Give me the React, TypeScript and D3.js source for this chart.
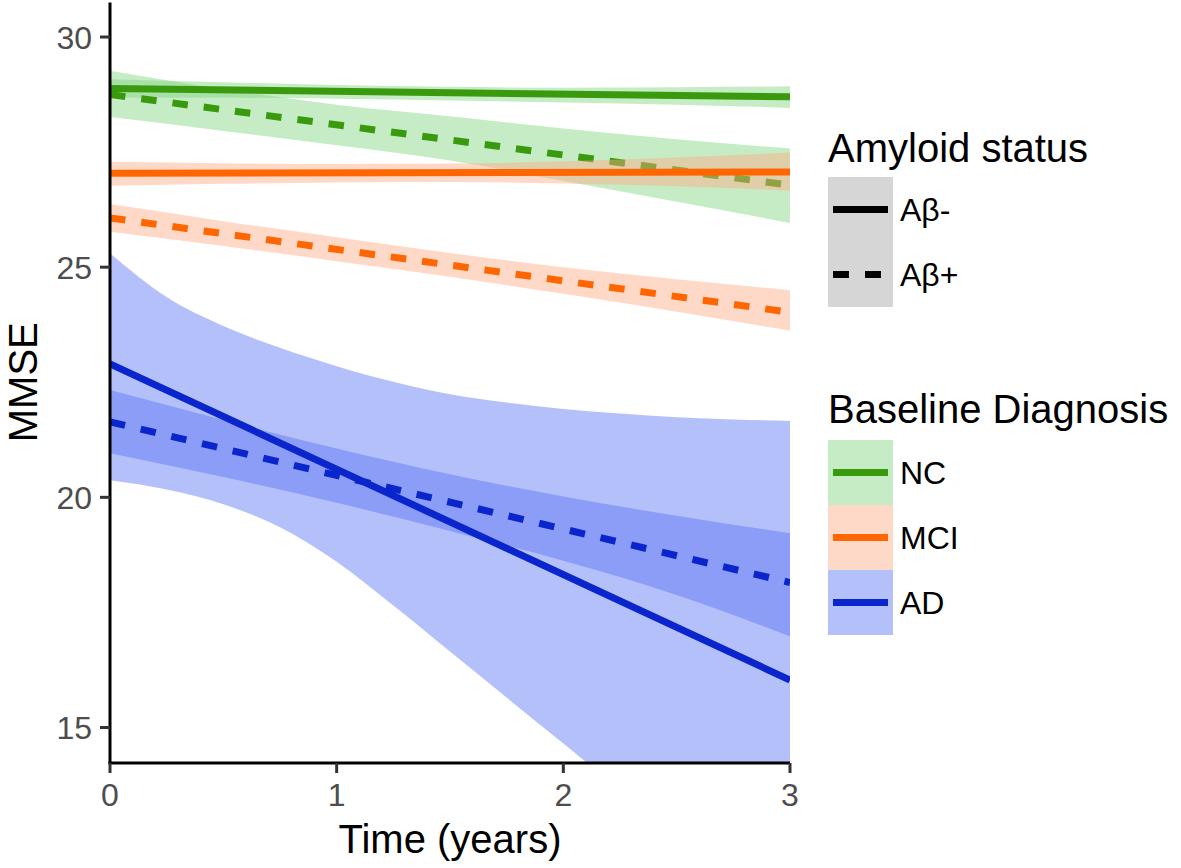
import React from 'react';
import * as d3 from 'd3';

// ---------- data ----------
const xTicks = [0, 1, 2, 3];
const yTicks = [15, 20, 25, 30];
const yLimits = [15, 30];

const diagnoses = ['NC', 'MCI', 'AD'];
const amyloidStatus = ['Aβ-', 'Aβ+'];

// fitted lines (value at time 0 and 3)
const lineTimes = [0, 3];
const ncNegMean = [28.88, 28.7];
const ncPosMean = [28.75, 26.78];
const mciNegMean = [27.04, 27.07];
const mciPosMean = [26.07, 24.02];
const adNegMean = [22.9, 16.03];
const adPosMean = [21.64, 18.15];

// confidence bands
const bandTimes = [0, 0.5, 1, 1.5, 2, 2.5, 3];
const ncNegUpper = [29.08, 29.02, 28.96, 28.92, 28.9, 28.91, 28.93];
const ncNegLower = [28.68, 28.68, 28.66, 28.62, 28.58, 28.53, 28.46];
const ncPosUpper = [29.27, 28.87, 28.53, 28.28, 28.01, 27.78, 27.58];
const ncPosLower = [28.26, 27.96, 27.65, 27.32, 26.87, 26.42, 25.96];
const mciNegUpper = [27.29, 27.26, 27.24, 27.25, 27.3, 27.38, 27.49];
const mciNegLower = [26.77, 26.81, 26.84, 26.85, 26.82, 26.76, 26.66];
const mciPosUpper = [26.37, 26.0, 25.65, 25.31, 25.0, 24.74, 24.5];
const mciPosLower = [25.77, 25.46, 25.13, 24.79, 24.42, 24.03, 23.62];
const adPosUpper = [22.33, 21.68, 21.06, 20.5, 20.02, 19.6, 19.22];
const adPosLower = [20.96, 20.44, 19.88, 19.27, 18.62, 17.88, 16.98];

const bandTimesFine = [0, 0.25, 0.5, 0.75, 1, 1.25, 1.5, 1.75, 2, 2.25, 2.5, 2.75, 3];
const adNegUpper = [25.3, 24.35, 23.72, 23.25, 22.85, 22.51, 22.24, 22.06, 21.92, 21.82, 21.74, 21.69, 21.66];
const adNegLower = [20.37, 20.17, 19.85, 19.35, 18.6, 17.65, 16.65, 15.65, 14.65, 13.65, 12.65, 11.65, 10.65];

// ---------- styling ----------
const lineColors: Record<string, string> = { NC: '#3a9a0e', MCI: '#ff6600', AD: '#0a25cc' };
const bandFills: Record<string, string> = { NC: 'rgb(128,213,128)', MCI: 'rgb(255,171,133)', AD: 'rgb(88,115,244)' };
const bandOpacity = 0.45;
const dash = '15.5 16';
const FONT = '"Liberation Sans", Arial, Helvetica, sans-serif';

const W = 1181;
const H = 868;
const panel = { left: 110, right: 790, top: 2.5, bottom: 762 };

type Group = {
  diag: string;
  bands: { times: number[]; upper: number[]; lower: number[] }[];
  lines: { values: number[]; dashed: boolean }[];
};

const groups: Group[] = [
  {
    diag: 'NC',
    bands: [
      { times: bandTimes, upper: ncNegUpper, lower: ncNegLower },
      { times: bandTimes, upper: ncPosUpper, lower: ncPosLower },
    ],
    lines: [
      { values: ncNegMean, dashed: false },
      { values: ncPosMean, dashed: true },
    ],
  },
  {
    diag: 'MCI',
    bands: [
      { times: bandTimes, upper: mciNegUpper, lower: mciNegLower },
      { times: bandTimes, upper: mciPosUpper, lower: mciPosLower },
    ],
    lines: [
      { values: mciNegMean, dashed: false },
      { values: mciPosMean, dashed: true },
    ],
  },
  {
    diag: 'AD',
    bands: [
      { times: bandTimesFine, upper: adNegUpper, lower: adNegLower },
      { times: bandTimes, upper: adPosUpper, lower: adPosLower },
    ],
    lines: [
      { values: adNegMean, dashed: false },
      { values: adPosMean, dashed: true },
    ],
  },
];

export default function App() {
  const x = d3.scaleLinear().domain([0, 3]).range([panel.left, panel.right]);
  const span = yLimits[1] - yLimits[0];
  const y = d3
    .scaleLinear()
    .domain([yLimits[0] - 0.05 * span, yLimits[1] + 0.05 * span])
    .range([panel.bottom, panel.top]);

  const area = d3
    .area<{ t: number; lo: number; hi: number }>()
    .x((d) => x(d.t))
    .y0((d) => y(d.lo))
    .y1((d) => y(d.hi))
    .curve(d3.curveMonotoneX);

  const line = d3
    .line<{ t: number; v: number }>()
    .x((d) => x(d.t))
    .y((d) => y(d.v));

  const tickLen = 10;
  const lw = 7;

  return (
    <svg
      width={W}
      height={H}
      style={{ position: 'absolute', left: 0, top: 0, display: 'block', background: '#fff' }}
      fontFamily={FONT}
    >
      <defs>
        <clipPath id="panelClip">
          <rect x={panel.left} y={panel.top} width={panel.right - panel.left} height={panel.bottom - panel.top} />
        </clipPath>
      </defs>

      <g clipPath="url(#panelClip)">
        {groups.map((g) => (
          <g key={g.diag}>
            {g.bands.map((b, i) => (
              <path
                key={'b' + i}
                d={area(b.times.map((t, k) => ({ t, lo: b.lower[k], hi: b.upper[k] }))) || ''}
                fill={bandFills[g.diag]}
                fillOpacity={bandOpacity}
              />
            ))}
            {g.lines.map((l, i) => (
              <path
                key={'l' + i}
                d={line(lineTimes.map((t, k) => ({ t, v: l.values[k] }))) || ''}
                fill="none"
                stroke={lineColors[g.diag]}
                strokeWidth={lw}
                strokeDasharray={l.dashed ? dash : undefined}
              />
            ))}
          </g>
        ))}
      </g>

      {/* y axis */}
      <line x1={panel.left} x2={panel.left} y1={panel.top} y2={panel.bottom + 1.5} stroke="#000" strokeWidth={3} />
      {yTicks.map((t) => (
        <g key={'yt' + t}>
          <line x1={panel.left - tickLen} x2={panel.left} y1={y(t)} y2={y(t)} stroke="#333" strokeWidth={3} />
          <text x={panel.left - tickLen - 8} y={y(t) + 11.5} textAnchor="end" fontSize={32} fill="#4d4d4d">
            {t}
          </text>
        </g>
      ))}

      {/* x axis */}
      <line x1={panel.left - 1.5} x2={panel.right} y1={panel.bottom + 1} y2={panel.bottom + 1} stroke="#000" strokeWidth={3} />
      {xTicks.map((t) => (
        <g key={'xt' + t}>
          <line x1={x(t)} x2={x(t)} y1={panel.bottom + 1} y2={panel.bottom + 1 + tickLen} stroke="#333" strokeWidth={3} />
          <text x={x(t)} y={panel.bottom + 44} textAnchor="middle" fontSize={32} fill="#4d4d4d">
            {t}
          </text>
        </g>
      ))}

      {/* axis titles */}
      <text x={(panel.left + panel.right) / 2} y={853} textAnchor="middle" fontSize={40} fill="#000">
        Time (years)
      </text>
      <text
        transform={`translate(37, ${(panel.top + panel.bottom) / 2}) rotate(-90)`}
        textAnchor="middle"
        fontSize={40}
        fill="#000"
      >
        MMSE
      </text>

      {/* legend: amyloid status */}
      <text x={828} y={162} fontSize={40} fill="#000">
        Amyloid status
      </text>
      {amyloidStatus.map((s, i) => {
        const top = 177 + i * 65;
        return (
          <g key={s}>
            <rect x={828} y={top} width={65} height={65} fill="#d6d6d6" />
            <line
              x1={833}
              x2={888}
              y1={top + 32.5}
              y2={top + 32.5}
              stroke="#000"
              strokeWidth={lw}
              strokeDasharray={i === 1 ? '16 16' : undefined}
            />
            <text x={900} y={top + 32.5 + 11.5} fontSize={32} fill="#000">
              {s}
            </text>
          </g>
        );
      })}

      {/* legend: baseline diagnosis */}
      <text x={828} y={423} fontSize={40} fill="#000">
        Baseline Diagnosis
      </text>
      {diagnoses.map((dg, i) => {
        const top = 440 + i * 65;
        return (
          <g key={dg}>
            <rect x={828} y={top} width={65} height={65} fill="#fff" />
            <rect x={828} y={top} width={65} height={65} fill={bandFills[dg]} fillOpacity={bandOpacity} />
            <line x1={833} x2={888} y1={top + 32.5} y2={top + 32.5} stroke={lineColors[dg]} strokeWidth={lw} />
            <text x={900} y={top + 32.5 + 11.5} fontSize={32} fill="#000">
              {dg}
            </text>
          </g>
        );
      })}
    </svg>
  );
}
